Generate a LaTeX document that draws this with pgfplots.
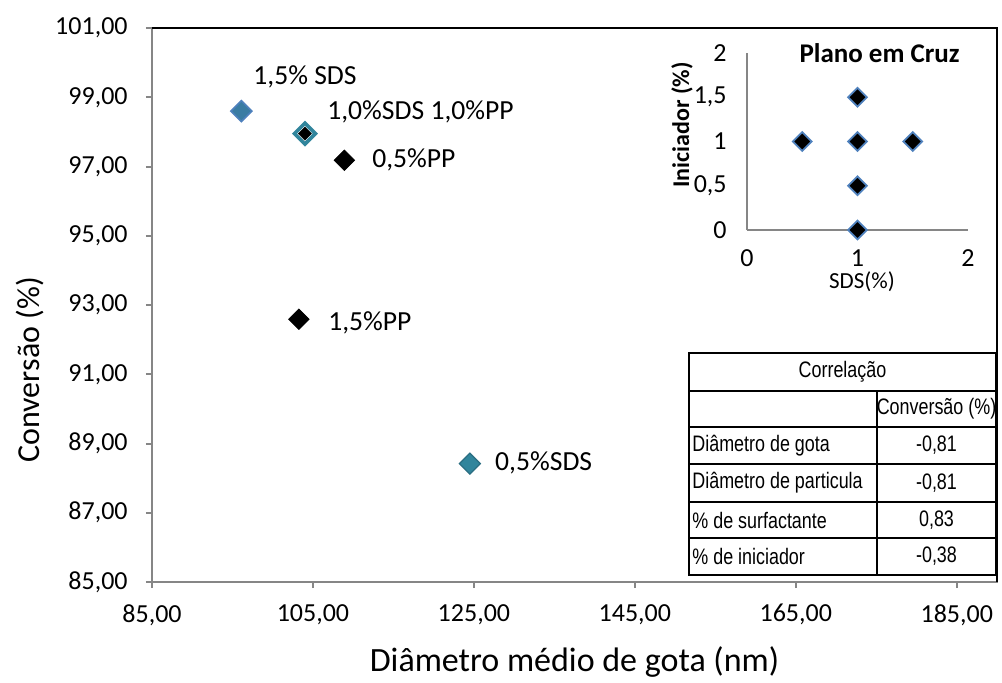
\documentclass[border=0pt]{standalone}
\usepackage{fontspec}
\setmainfont{Carlito}
\newfontfamily\narrowfont[FakeStretch=0.8]{Liberation Sans}
\usepackage{pgfplots}
\pgfplotsset{compat=1.18}
\definecolor{tealA}{HTML}{31859C}
\definecolor{tealD}{HTML}{2A6E82}
\definecolor{blueA}{HTML}{4F81BD}
\definecolor{sdsA}{HTML}{3A7CA3}
\definecolor{axgray}{HTML}{868686}
\begin{document}
\begin{tikzpicture}
\path[use as bounding box] (-76pt,-50pt) rectangle (425pt,291pt);
\begin{axis}[
  at={(0,0)}, anchor=south west,
  scale only axis, width=422.5pt, height=277pt,
  xmin=85, xmax=190, ymin=85, ymax=101,
  xtick={85,105,125,145,165,185}, ytick={85,87,89,91,93,95,97,99,101},
  tick pos=left, tick align=outside, major tick length=3pt,
  axis line style={draw=axgray, line width=1pt},
  tick style={draw=axgray, line width=1pt},
  ticklabel style={font=\fontsize{13}{15}\selectfont,
    /pgf/number format/use comma, /pgf/number format/fixed,
    /pgf/number format/fixed zerofill, /pgf/number format/precision=2,
    /pgf/number format/1000 sep={}, /pgf/number format/assume math mode=true},
  xticklabel style={anchor=north, inner sep=0pt, yshift=-8pt},
  yticklabel style={anchor=east, inner sep=0pt, xshift=-9pt},
  xlabel={Diâmetro médio de gota (nm)},
  ylabel={Conversão (\%)},
  xlabel style={at={(rel axis cs:0.5,0)}, anchor=center, yshift=-40pt, font=\fontsize{17}{20}\selectfont},
  ylabel style={at={(axis description cs:-0.1444,0.383)}, anchor=center, font=\fontsize{16}{19}\selectfont},
  clip=false,
]
% 1,5% SDS
\addplot[only marks, mark=square*, mark size=3.7pt, mark options={rotate=45, fill=sdsA, draw=blueA, line width=0.8pt}] coordinates {(96.1,98.6)};
% 1,0% SDS 1,0% PP (central point)
\addplot[only marks, mark=square*, mark size=3.7pt, mark options={rotate=45, fill=white, draw=tealA, line width=1.8pt}] coordinates {(104.0,97.95)};
\addplot[only marks, mark=square*, mark size=2.3pt, mark options={rotate=45, fill=black, draw=black, line width=0.3pt}] coordinates {(104.0,97.95)};
% 0,5% PP and 1,5% PP
\addplot[only marks, mark=square*, mark size=3.6pt, mark options={rotate=45, fill=black, draw=black, line width=0.4pt}] coordinates {(108.9,97.18) (103.25,92.59)};
% 0,5% SDS
\addplot[only marks, mark=square*, mark size=3.7pt, mark options={rotate=45, fill=tealA, draw=tealD, line width=0.6pt}] coordinates {(124.5,88.42)};
\draw[black, line width=0.8pt] (rel axis cs:0,1) -- (rel axis cs:1,1) -- (rel axis cs:1,0);
\begin{scope}[every node/.style={anchor=west, inner sep=0pt, font=\fontsize{13.8}{16}\selectfont}]
\node at (axis cs:97.55,99.585) {1,5\% SDS};
\node at (axis cs:106.74,98.574) {1,0\%SDS 1,0\%PP};
\node at (axis cs:112.33,97.19) {0,5\%PP};
\node at (axis cs:106.86,92.48) {1,5\%PP};
\node at (axis cs:127.6,88.44) {0,5\%SDS};
\end{scope}
\end{axis}
% inset
\begin{axis}[
  at={(297.5pt,176pt)}, anchor=south west,
  scale only axis, width=110.5pt, height=88.5pt,
  xmin=0, xmax=2, ymin=0, ymax=2,
  xtick={0,1,2}, ytick={0,0.5,1,1.5,2},
  axis x line*=bottom, axis y line*=left,
  axis line style={draw=axgray, line width=0.8pt, -},
  major tick length=0pt,
  ticklabel style={font=\fontsize{13}{15}\selectfont, /pgf/number format/use comma, /pgf/number format/assume math mode=true},
  xticklabel style={anchor=north, inner sep=0pt, yshift=-9.5pt},
  yticklabel style={anchor=east, inner sep=0pt, xshift=-10pt},
  xlabel={SDS(\%)},
  ylabel={\bfseries Iniciador (\%)},
  xlabel style={at={(axis description cs:0.52,-0.29)}, anchor=center, font=\fontsize{11.5}{13}\selectfont},
  ylabel style={at={(axis description cs:-0.294,0.593)}, anchor=center, font=\fontsize{12}{14}\selectfont},
  clip=false,
]
\addplot[only marks, mark=square*, mark size=3.3pt, mark options={rotate=45, fill=black, draw=blueA, line width=0.9pt}] coordinates {(1,0) (1,0.5) (0.5,1) (1,1) (1.5,1) (1,1.5)};
\node[anchor=center, font=\bfseries\fontsize{13.5}{16}\selectfont] at (axis description cs:0.60,1.0) {Plano em Cruz};
\end{axis}
% correlation table
\begin{scope}[line width=1pt]
\fill[white] (268.5pt,3.5pt) rectangle (422pt,114.5pt);
\draw (268.5pt,3.5pt) rectangle (422pt,114.5pt);
\foreach \yy in {95.5,77.5,59,40,22} {\draw (268.5pt,\yy pt) -- (422pt,\yy pt);}
\draw (362.5pt,3.5pt) -- (362.5pt,95.5pt);
\end{scope}
\begin{scope}[every node/.style={inner sep=0pt, font=\narrowfont\fontsize{11.2}{13}\selectfont}]
\node[anchor=center] at (345.25pt,105pt) {Correlação};
\node[anchor=center] at (392.25pt,86.5pt) {Conversão (\%)};
\node[anchor=west] at (270pt,68.25pt) {Diâmetro de gota};
\node[anchor=west] at (270pt,49.5pt) {Diâmetro de particula};
\node[anchor=west] at (270pt,31pt) {\% de surfactante};
\node[anchor=west] at (270pt,12.75pt) {\% de iniciador};
\node[anchor=center] at (392.25pt,68.25pt) {-0,81};
\node[anchor=center] at (392.25pt,49.5pt) {-0,81};
\node[anchor=center] at (392.25pt,31pt) {0,83};
\node[anchor=center] at (392.25pt,12.75pt) {-0,38};
\end{scope}
\end{tikzpicture}
\end{document}
